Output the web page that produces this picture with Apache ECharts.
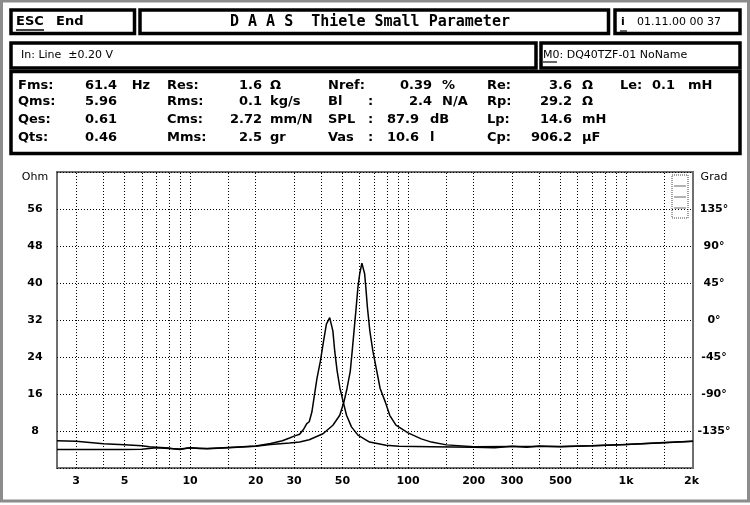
<!DOCTYPE html>
<html><head><meta charset="utf-8">
<script src="https://cdn.jsdelivr.net/npm/echarts@6/dist/echarts.min.js"></script>
<style>html,body{margin:0;padding:0;background:#fff}#c{width:750px;height:505px}</style>
</head><body><div id="c"></div>
<script>
// ---- data: impedance curves (Hz, Ohm) ----
const freqA = [2.45, 3, 4, 5, 6, 7, 8, 9, 10, 12, 15, 20, 23.4, 28.6, 31.8, 35.2, 40.7, 45.2, 48.6, 50.8, 52.5, 54.3, 55.4, 56.5, 57.8, 58.9, 60, 61.4, 63.2, 64, 65.1, 66.8, 69, 71.9, 74.4, 78.6, 82.4, 88, 100, 115, 128, 150, 200, 300, 500, 700, 1000, 1500, 2030];
const ohmA  = [4.0, 4.0, 4.0, 4.0, 4.05, 4.4, 4.2, 4.1, 4.4, 4.15, 4.4, 4.7, 5.1, 5.4, 5.6, 6.1, 7.4, 9.25, 11.4, 14.3, 17.25, 20.9, 25.2, 29.6, 34.7, 39.1, 42.0, 44.3, 42.0, 39.1, 34.7, 29.6, 25.2, 20.9, 17.25, 14.3, 11.4, 9.25, 7.6, 6.3, 5.6, 5.0, 4.6, 4.65, 4.65, 4.8, 5.1, 5.45, 5.8];
const freqB = [2.45, 3, 4, 5, 6, 6.5, 7, 8, 8.5, 9, 9.5, 10, 11, 12, 15, 20, 23.4, 26.5, 28.6, 30, 31.8, 33.3, 34.3, 35.2, 36.2, 37.2, 38.2, 39.6, 40.7, 42.2, 43.7, 45.2, 46.1, 47.3, 48.7, 50.4, 52.2, 55, 58.9, 66.6, 79.2, 91, 128, 200, 250, 300, 350, 400, 500, 700, 1000, 1500, 2030];
const ohmB  = [5.9, 5.8, 5.25, 5.03, 4.8, 4.6, 4.5, 4.3, 4.1, 4.0, 4.2, 4.4, 4.2, 4.2, 4.45, 4.75, 5.3, 5.9, 6.5, 6.9, 7.3, 8.5, 9.6, 10.0, 12.1, 15.8, 19.4, 23.1, 26.7, 31.1, 32.5, 29.6, 25.2, 20.9, 17.25, 14.3, 11.4, 8.9, 7.1, 5.6, 4.9, 4.7, 4.6, 4.5, 4.4, 4.7, 4.5, 4.75, 4.6, 4.8, 5.1, 5.5, 5.8];

// ---- axes ----
const xGridFreqs  = [3,4,5,6,7,8,9,10,15,20,30,40,50,60,70,80,90,100,150,200,300,400,500,600,700,800,900,1000,1500];
const xTickLabels = [3,5,10,20,30,50,100,200,300,500,1000,2000];
const ohmRange  = [0, 64, 8];
const gradRange = [-180, 180, 45];

// ---- header texts ----
const titleText = 'D A A S  Thiele Small Parameter';
const dateText  = '01.11.00 00 37';
const inputText = 'In: Line  \u00b10.20 V';
const modelText = 'M0: DQ40TZF-01 NoName';

// ---- parameter table ----
const paramLabels = [
  ['Fms:', 'Res:', 'Nref:', 'Re:'],
  ['Qms:', 'Rms:', 'Bl  :', 'Rp:'],
  ['Qes:', 'Cms:', 'SPL :', 'Lp:'],
  ['Qts:', 'Mms:', 'Vas :', 'Cp:']
];
const paramValues = [
  ['61.4', '1.6', '0.39', '3.6'],
  ['5.96', '0.1', '2.4', '29.2'],
  ['0.61', '2.72', '87.9', '14.6'],
  ['0.46', '2.5', '10.6', '906.2']
];
const paramUnits = [
  ['Hz', '\u03a9', '%', '\u03a9'],
  ['', 'kg/s', 'N/A', '\u03a9'],
  ['', 'mm/N', 'dB', 'mH'],
  ['', 'gr', 'l', '\u00b5F']
];
const extraParam = ['Le:', '0.1', 'mH'];

const zip = (f, o) => f.map((v, i) => [v, o[i]]);
const fmtFreq = f => f >= 1000 ? (f / 1000) + 'k' : String(f);

const chart = echarts.init(document.getElementById('c'), null, {renderer: 'canvas'});

const PF = 'bold 13px "DejaVu Sans"';
const RF = '11px "DejaVu Sans"';
function T(x, y, text, font, align) {
  return {type: 'text', x: x, y: y, silent: true,
    style: {text: text, font: font, fill: '#000', align: align || 'left', verticalAlign: 'middle'}};
}
function R(x, y, w, h, lw, stroke, dash) {
  return {type: 'rect', silent: true, shape: {x: x, y: y, width: w, height: h},
    style: {fill: 'none', stroke: stroke || '#000', lineWidth: lw, lineDash: dash || null}};
}
function L(x1, y1, x2, y2, lw) {
  return {type: 'line', silent: true, shape: {x1: x1, y1: y1, x2: x2, y2: y2},
    style: {stroke: '#000', lineWidth: lw}};
}

const els = [];
els.push(R(1.5, 1, 747, 500, 3, '#8c8c8c'));
els.push(R(11, 10, 123.5, 23.5, 3.5));
els.push(R(140, 10, 468.5, 23.5, 3.5));
els.push(R(615, 10, 125, 23.5, 3.5));
els.push(R(11, 43, 525, 25, 3.5));
els.push(R(541, 43, 199, 25, 3.5));
els.push(R(11, 71.5, 729, 82, 3.5));
els.push(T(16, 22, 'ESC', PF));
els.push(L(16, 30, 44, 30, 1.5));
els.push(T(56, 22, 'End', PF));
els.push(T(230, 22, titleText, 'bold 15px "DejaVu Sans Mono"'));
els.push(T(621, 22, 'i', 'bold 11px "DejaVu Sans"'));
els.push(L(620, 31, 627, 31, 1.2));
els.push(T(637, 22, dateText, RF));
els.push(T(21, 55, inputText, RF));
els.push(T(543, 55, modelText, RF));
els.push(L(543, 62, 557, 62, 1.2));
const rowY = [85.2, 101.8, 119.5, 137.5];
const labelX = [18, 167, 328, 487];
const valueX = [[85, 'left'], [262, 'right'], [432, 'right'], [572, 'right']];
const unitX = [131.7, 270, 442, 582];
for (let r = 0; r < 4; r++) {
  for (let c = 0; c < 4; c++) {
    let lab = paramLabels[r][c];
    if (c === 2 && r > 0) {
      els.push(T(labelX[c], rowY[r], lab.replace(/\s*:$/, ''), PF));
      els.push(T(368, rowY[r], ':', PF));
    } else {
      els.push(T(labelX[c], rowY[r], lab, PF));
    }
    let vx = valueX[c][0], va = valueX[c][1];
    let ux = unitX[c];
    if (c === 2 && r >= 2) { vx = 419; ux = 430; }
    els.push(T(vx, rowY[r], paramValues[r][c], PF, va));
    if (paramUnits[r][c]) els.push(T(ux, rowY[r], paramUnits[r][c], PF));
  }
}
els.push(T(620, rowY[0], extraParam[0], PF));
els.push(T(652, rowY[0], extraParam[1], PF));
els.push(T(688, rowY[0], extraParam[2], PF));
els.push(R(672, 175, 16, 43, 1, '#444', [1, 1]));
els.push(L(674, 186, 686, 186, 0.6));
els.push(L(674, 197, 686, 197, 0.6));
els.push(L(674, 208, 686, 208, 0.6));

const labelStyle = {color: '#000', fontFamily: 'DejaVu Sans', fontWeight: 'bold', fontSize: 11};

const markData = xGridFreqs.map(f => ({xAxis: f, label: {show: false}}))
  .concat(xTickLabels.map(f => ({
    xAxis: f,
    lineStyle: {color: 'rgba(0,0,0,0)', opacity: 1},
    label: Object.assign({show: true, position: 'start', distance: 8, formatter: fmtFreq(f), opacity: 1}, labelStyle)
  })));

chart.setOption({
  animation: false,
  backgroundColor: '#fff',
  grid: {left: 57, right: 57, top: 172, bottom: 37, show: true, borderColor: '#6e6e6e', borderWidth: 2},
  xAxis: {
    type: 'log', logBase: 10, min: 2.45, max: 2030,
    axisLine: {show: false}, axisTick: {show: false}, axisLabel: {show: false}, splitLine: {show: false}
  },
  yAxis: [
    {
      type: 'value', min: ohmRange[0], max: ohmRange[1], interval: ohmRange[2], position: 'left',
      axisLine: {show: false}, axisTick: {show: false},
      axisLabel: Object.assign({
        margin: 22, align: 'center',
        formatter: v => v === ohmRange[1] ? '{n|Ohm}' : (v === ohmRange[0] ? '' : String(v)),
        rich: {n: {fontWeight: 'normal', fontSize: 11, fontFamily: 'DejaVu Sans', color: '#000', padding: [10, 0, 0, 0]}}
      }, labelStyle),
      splitLine: {show: true, lineStyle: {color: '#000', type: [1, 2], width: 1}}
    },
    {
      type: 'value', min: gradRange[0], max: gradRange[1], interval: gradRange[2], position: 'right',
      axisLine: {show: false}, axisTick: {show: false},
      axisLabel: Object.assign({
        margin: 21, align: 'center',
        formatter: v => v === gradRange[1] ? '{n|Grad}' : (v === gradRange[0] ? '' : v + '\u00b0'),
        rich: {n: {fontWeight: 'normal', fontSize: 11, fontFamily: 'DejaVu Sans', color: '#000', padding: [10, 0, 0, 0]}}
      }, labelStyle),
      splitLine: {show: false}
    }
  ],
  series: [
    {
      type: 'line', name: 'A', data: zip(freqA, ohmA), yAxisIndex: 0, symbol: 'none', silent: true,
      lineStyle: {color: '#000', width: 1.5},
      markLine: {silent: true, symbol: ['none', 'none'], animation: false,
        lineStyle: {color: '#000', type: [1, 2], width: 1}, label: {show: false}, data: markData}
    },
    {
      type: 'line', name: 'B', data: zip(freqB, ohmB), yAxisIndex: 0, symbol: 'none', silent: true,
      lineStyle: {color: '#000', width: 1.5}
    }
  ],
  graphic: {elements: els}
});
</script></body></html>
